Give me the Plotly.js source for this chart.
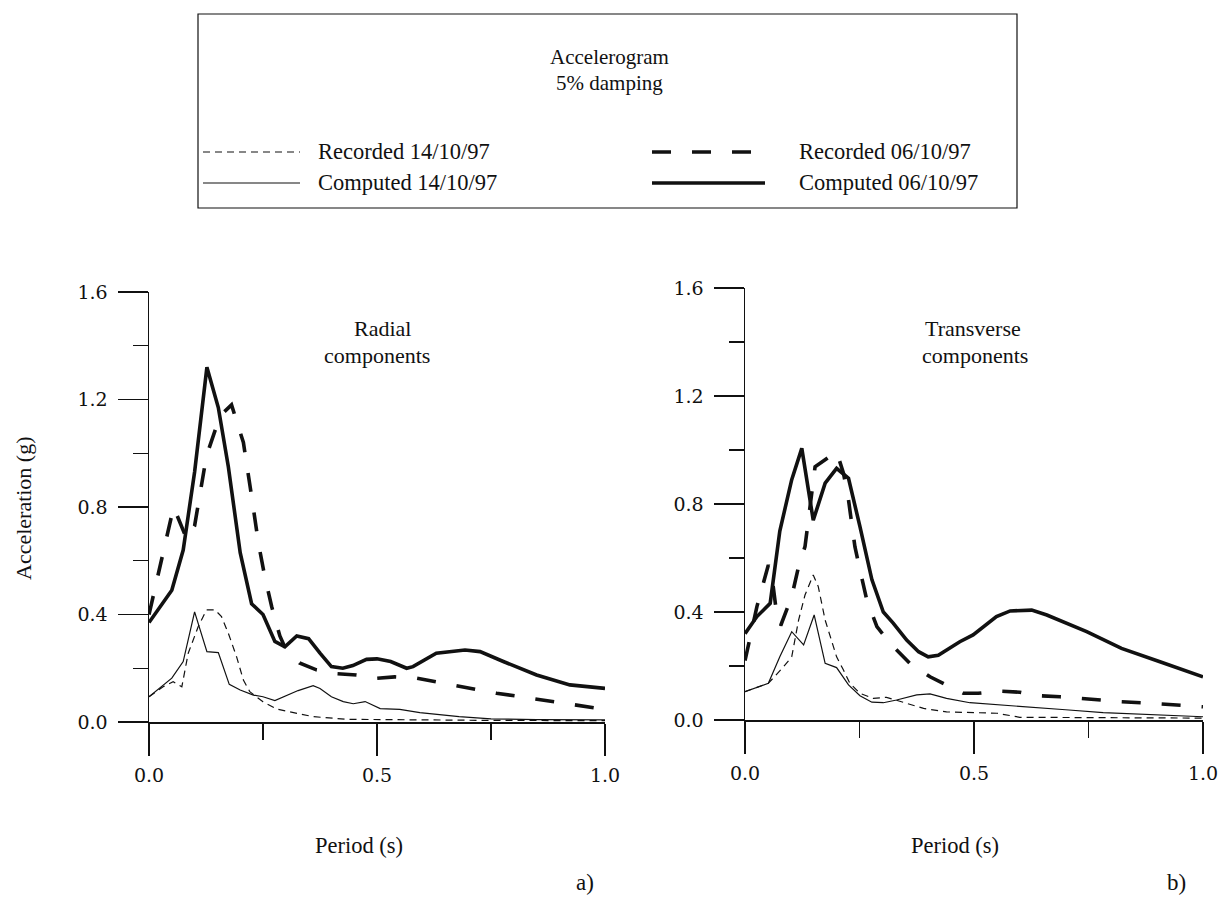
<!DOCTYPE html>
<html>
<head>
<meta charset="utf-8">
<script src="https://cdn.plot.ly/plotly-3.0.1.min.js"></script>
<style>html,body{margin:0;padding:0;background:#fff;}#chart{width:1218px;height:899px;}</style>
</head>
<body>
<div id="chart"></div>
<script>
// ---------- DATA ----------
// a) Radial components
const radRec14Period = [0, 0.031, 0.053, 0.072, 0.086, 0.108, 0.126, 0.145, 0.159, 0.174, 0.192, 0.207, 0.221, 0.25, 0.28, 0.33, 0.36, 0.433, 0.55, 0.75, 1.0];
const radRec14Acc    = [0.094, 0.131, 0.15, 0.131, 0.256, 0.355, 0.417, 0.417, 0.392, 0.33, 0.243, 0.156, 0.113, 0.075, 0.048, 0.03, 0.02, 0.01, 0.008, 0.006, 0.005];

const radCmp14Period = [0, 0.05, 0.075, 0.1, 0.127, 0.152, 0.176, 0.2, 0.229, 0.25, 0.276, 0.302, 0.327, 0.36, 0.375, 0.4, 0.426, 0.448, 0.474, 0.507, 0.55, 0.594, 0.68, 0.75, 0.85, 1.0];
const radCmp14Acc    = [0.094, 0.163, 0.225, 0.41, 0.262, 0.258, 0.14, 0.119, 0.1, 0.094, 0.08, 0.1, 0.117, 0.135, 0.125, 0.094, 0.076, 0.068, 0.076, 0.05, 0.047, 0.035, 0.02, 0.012, 0.009, 0.008];

const radRec06Period = [0, 0.054, 0.083, 0.1, 0.126, 0.156, 0.181, 0.207, 0.225, 0.24, 0.254, 0.269, 0.287, 0.3, 0.33, 0.367, 0.41, 0.455, 0.5, 0.539, 0.587, 0.627, 0.671, 0.715, 0.762, 0.803, 0.85, 0.89, 0.938, 0.98, 1.0];
const radRec06Acc    = [0.40, 0.80, 0.68, 0.73, 0.99, 1.14, 1.18, 1.04, 0.84, 0.665, 0.54, 0.43, 0.32, 0.27, 0.22, 0.194, 0.18, 0.175, 0.163, 0.168, 0.163, 0.15, 0.134, 0.122, 0.107, 0.097, 0.085, 0.072, 0.063, 0.051, 0.047];

const radCmp06Period = [0, 0.05, 0.075, 0.1, 0.127, 0.152, 0.174, 0.2, 0.225, 0.25, 0.276, 0.298, 0.324, 0.35, 0.375, 0.4, 0.425, 0.447, 0.477, 0.5, 0.53, 0.565, 0.579, 0.63, 0.693, 0.726, 0.777, 0.85, 0.923, 1.0];
const radCmp06Acc    = [0.37, 0.49, 0.64, 0.93, 1.32, 1.17, 0.95, 0.63, 0.44, 0.40, 0.30, 0.28, 0.32, 0.31, 0.256, 0.206, 0.20, 0.21, 0.233, 0.235, 0.225, 0.20, 0.206, 0.256, 0.268, 0.262, 0.225, 0.175, 0.138, 0.125];

// b) Transverse components
const traRec14Period = [0, 0.051, 0.084, 0.102, 0.117, 0.131, 0.149, 0.16, 0.175, 0.189, 0.2, 0.215, 0.229, 0.251, 0.28, 0.309, 0.346, 0.39, 0.44, 0.491, 0.55, 0.6, 0.75, 1.0];
const traRec14Acc    = [0.105, 0.136, 0.197, 0.234, 0.37, 0.463, 0.537, 0.494, 0.37, 0.296, 0.234, 0.185, 0.136, 0.099, 0.08, 0.084, 0.066, 0.043, 0.03, 0.027, 0.025, 0.01, 0.008, 0.007];

const traCmp14Period = [0, 0.026, 0.051, 0.076, 0.102, 0.128, 0.151, 0.175, 0.2, 0.226, 0.251, 0.277, 0.302, 0.331, 0.375, 0.404, 0.44, 0.491, 0.535, 0.6, 0.7, 0.782, 0.9, 1.0];
const traCmp14Acc    = [0.105, 0.121, 0.136, 0.234, 0.327, 0.278, 0.389, 0.21, 0.194, 0.13, 0.09, 0.066, 0.064, 0.074, 0.093, 0.097, 0.08, 0.064, 0.059, 0.05, 0.038, 0.027, 0.018, 0.012];

const traRec06Period = [0, 0.026, 0.051, 0.058, 0.069, 0.078, 0.102, 0.117, 0.131, 0.142, 0.153, 0.2, 0.215, 0.226, 0.24, 0.251, 0.266, 0.288, 0.317, 0.36, 0.404, 0.448, 0.477, 0.509, 0.553, 0.6, 0.64, 0.688, 0.728, 0.775, 0.819, 0.866, 0.906, 0.957, 1.0];
const traRec06Acc    = [0.22, 0.42, 0.574, 0.543, 0.395, 0.35, 0.457, 0.568, 0.642, 0.79, 0.938, 0.994, 0.914, 0.815, 0.642, 0.556, 0.444, 0.346, 0.284, 0.21, 0.16, 0.123, 0.099, 0.099, 0.107, 0.103, 0.09, 0.086, 0.08, 0.074, 0.068, 0.064, 0.059, 0.053, 0.049];

const traCmp06Period = [0, 0.026, 0.055, 0.076, 0.102, 0.124, 0.149, 0.175, 0.2, 0.226, 0.251, 0.277, 0.302, 0.324, 0.353, 0.379, 0.4, 0.422, 0.469, 0.498, 0.549, 0.579, 0.626, 0.659, 0.746, 0.822, 0.906, 1.0];
const traCmp06Acc    = [0.32, 0.383, 0.432, 0.70, 0.89, 1.006, 0.74, 0.877, 0.932, 0.895, 0.716, 0.52, 0.40, 0.358, 0.296, 0.253, 0.234, 0.24, 0.29, 0.315, 0.383, 0.404, 0.407, 0.389, 0.327, 0.265, 0.216, 0.16];

const xTickVals = [0, 0.5, 1.0];
const xTickText = ['0.0', '0.5', '1.0'];
const yTickVals = [0, 0.4, 0.8, 1.2, 1.6];
const yTickText = ['0.0', '0.4', '0.8', '1.2', '1.6'];

const seriesNames = ['Recorded 14/10/97', 'Computed 14/10/97', 'Recorded 06/10/97', 'Computed 06/10/97'];

// ---------- STYLE ----------
const W = 1218, H = 899;
const px = v => v / W;
const py = v => 1 - v / H;
const TXT = 'Liberation Serif, Times New Roman, serif';
const NUM = 'DejaVu Serif, serif';
const INK = '#111';

const styles = [
  {width: 1.2, dash: '7px,5px'},   // recorded 14
  {width: 1.2, dash: 'solid'},     // computed 14
  {width: 3.6, dash: '19px,21px'}, // recorded 06
  {width: 3.6, dash: 'solid'}      // computed 06
];

function tr(x, y, i, xa, ya) {
  return {x: x, y: y, xaxis: xa, yaxis: ya, type: 'scatter', mode: 'lines', name: seriesNames[i],
    showlegend: false, hoverinfo: 'skip',
    line: {color: INK, width: styles[i].width, dash: styles[i].dash}};
}

const data = [
  tr(radRec14Period, radRec14Acc, 0, 'x', 'y'),
  tr(radCmp14Period, radCmp14Acc, 1, 'x', 'y'),
  tr(radRec06Period, radRec06Acc, 2, 'x', 'y'),
  tr(radCmp06Period, radCmp06Acc, 3, 'x', 'y'),
  tr(traRec14Period, traRec14Acc, 0, 'x2', 'y2'),
  tr(traCmp14Period, traCmp14Acc, 1, 'x2', 'y2'),
  tr(traRec06Period, traRec06Acc, 2, 'x2', 'y2'),
  tr(traCmp06Period, traCmp06Acc, 3, 'x2', 'y2')
];

function xAxis(dom, anchor) {
  return {domain: dom, anchor: anchor, range: [0, 1], showgrid: false, zeroline: false,
    showline: true, linecolor: INK, linewidth: 1.5,
    ticks: 'outside', ticklen: 32, tickwidth: 1.5, tickcolor: INK,
    tickmode: 'array', tickvals: xTickVals, ticktext: xTickText,
    tickfont: {family: NUM, size: 19, color: INK}, ticklabelstandoff: 4,
    ticklabeloverflow: 'allow',
    minor: {dtick: 0.25, tick0: 0, ticks: 'outside', ticklen: 16, tickwidth: 1.3, tickcolor: INK, showgrid: false},
    fixedrange: true};
}
function yAxis(dom, anchor) {
  return {domain: dom, anchor: anchor, range: [0, 1.6], showgrid: false, zeroline: false,
    showline: true, linecolor: INK, linewidth: 1.5,
    ticks: 'outside', ticklen: 30, tickwidth: 1.3, tickcolor: INK,
    tickmode: 'array', tickvals: yTickVals, ticktext: yTickText,
    tickfont: {family: NUM, size: 19, color: INK}, ticklabelstandoff: 6,
    ticklabeloverflow: 'allow',
    minor: {dtick: 0.2, tick0: 0, ticks: 'outside', ticklen: 15, tickwidth: 1.3, tickcolor: INK, showgrid: false},
    fixedrange: true};
}

function txt(text, x, y, size, anchor) {
  return {text: text, xref: 'paper', yref: 'paper', x: px(x), y: py(y), showarrow: false,
    xanchor: anchor || 'center', yanchor: 'middle', font: {family: TXT, size: size, color: INK}};
}

const annotations = [
  txt('Accelerogram', 609, 57, 21),
  txt('5% damping', 609, 83, 21),
  txt(seriesNames[0], 316, 152, 22.5, 'left'),
  txt(seriesNames[2], 797, 152, 22.5, 'left'),
  txt(seriesNames[1], 316, 183, 22.5, 'left'),
  txt(seriesNames[3], 797, 183, 22.5, 'left'),
  txt('Radial', 382, 328, 22),
  txt('components', 377, 355, 22),
  txt('Transverse', 973, 328, 22),
  txt('components', 975, 355, 22),
  txt('Period (s)', 359, 845, 22.5),
  txt('Period (s)', 955, 845, 22.5),
  txt('a)', 585, 882, 23),
  txt('b)', 1176, 882, 23),
  Object.assign(txt('Acceleration (g)', 23, 508, 22), {textangle: -90})
];

function seg(x0, x1, y, i) {
  return {type: 'line', xref: 'paper', yref: 'paper', x0: px(x0), x1: px(x1), y0: py(y), y1: py(y),
    line: {color: INK, width: styles[i].width, dash: styles[i].dash}};
}
const shapes = [
  {type: 'rect', xref: 'paper', yref: 'paper', x0: px(198), x1: px(1017), y0: py(14), y1: py(208),
    line: {color: INK, width: 1.2}, fillcolor: 'rgba(0,0,0,0)'},
  seg(203, 300, 152, 0),
  seg(203, 300, 183, 1),
  seg(652, 765, 152, 2),
  seg(652, 765, 183, 3)
];

const layout = {
  width: W, height: H,
  margin: {l: 0, r: 0, t: 0, b: 0, pad: 0},
  paper_bgcolor: '#fff', plot_bgcolor: '#fff',
  showlegend: false,
  xaxis: xAxis([px(149), px(605)], 'y'),
  yaxis: yAxis([py(722), py(292)], 'x'),
  xaxis2: xAxis([px(745), px(1203)], 'y2'),
  yaxis2: yAxis([py(720), py(288)], 'x2'),
  annotations: annotations,
  shapes: shapes
};

Plotly.newPlot('chart', data, layout, {staticPlot: true, displayModeBar: false});
</script>
</body>
</html>
